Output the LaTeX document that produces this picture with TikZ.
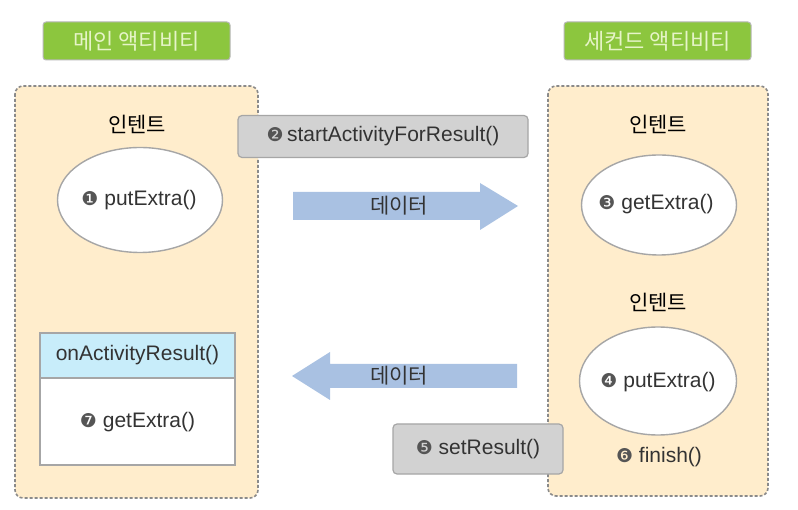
\documentclass[tikz,border=0pt]{standalone}
\usepackage{fontspec}
\setmainfont{Noto Sans CJK KR}
\newfontfamily\latinf{Liberation Sans}
\newfontfamily\symf{DejaVu Sans}
\usetikzlibrary{shapes.geometric}
\definecolor{boxfill}{HTML}{FFEDCC}
\definecolor{boxline}{HTML}{8A8A8A}
\definecolor{greenfill}{HTML}{8CC63E}
\definecolor{greentext}{HTML}{E6F4C8}
\definecolor{grayfill}{HTML}{D2D2D2}
\definecolor{grayline}{HTML}{A6A6A6}
\definecolor{arrowfill}{HTML}{A9C1E2}
\definecolor{headblue}{HTML}{C8EDFA}
\definecolor{txt}{HTML}{333333}
\definecolor{num}{HTML}{555555}
\newcommand{\nm}[1]{{\symf\color{num}\fontsize{19}{19}\selectfont #1}}
\tikzset{
  lbl/.style={fill=greenfill, draw=grayline!80, line width=1pt, rounded corners=3pt, text=greentext, font=\fontsize{22}{24}\selectfont, minimum width=187pt, minimum height=38pt, inner sep=0pt},
  area/.style={fill=boxfill, draw=boxline, dash pattern=on 3pt off 2pt, line width=1.6pt, rounded corners=8pt},
  callbox/.style={fill=grayfill, draw=grayline, line width=1.2pt, rounded corners=4pt, text=txt, font=\latinf\fontsize{21}{24}\selectfont, inner sep=0pt},
  oval/.style={ellipse, fill=white, draw=grayline, line width=1.4pt, inner sep=0pt},
  ttl/.style={text=black, font=\fontsize{21}{24}\selectfont},
  arrowshape/.style={fill=arrowfill, draw=none},
  datatext/.style={text=txt, font=\fontsize{21}{24}\selectfont},
  plain/.style={text=txt, font=\latinf\fontsize{21}{24}\selectfont}
}
\begin{document}
\begin{tikzpicture}[x=1pt,y=-1pt]
\useasboundingbox (0,0) rectangle (798,510);
\fill[white] (0,0) rectangle (798,510);
\node[lbl] (mainlbl) at (136.5,41) {메인 액티비티};
\node[lbl] (seclbl) at (657.5,41) {세컨드 액티비티};
\draw[area] (15,86) rectangle (258,498);
\draw[area] (548,86) rectangle (768,496);
\node[ttl] (int1) at (137,124) {인텐트};
\node[oval, minimum width=165pt, minimum height=105pt] (put1) at (140,200) {};
\node[plain] (put1t) at (139,200) {\nm{❶} putExtra()};
\node[ttl] (int2) at (658,124) {인텐트};
\node[oval, minimum width=155pt, minimum height=100pt] (get3) at (659,205) {};
\node[plain] (get3t) at (656,204) {\nm{❸} getExtra()};
\node[ttl] (int3) at (658,302) {인텐트};
\node[oval, minimum width=157pt, minimum height=108pt] (put4) at (658,381) {};
\node[plain] (put4t) at (658,382) {\nm{❹} putExtra()};
\node[plain] (fin) at (659,457) {\nm{❻} finish()};
\node[callbox, minimum width=290pt, minimum height=42pt] (start) at (383,136.5) {\nm{❷}\,startActivityForResult()};
\node[callbox, minimum width=170pt, minimum height=50pt] (setr) at (478,449) {\nm{❺} setResult()};
% right data arrow
\fill[arrowshape] (293,192) -- (480,192) -- (480,183) -- (518,206) -- (480,230) -- (480,220) -- (293,220) -- cycle;
\node[datatext] (d1) at (399,206) {데이터};
% left data arrow
\fill[arrowshape] (517,364) -- (330,364) -- (330,352) -- (292,376) -- (330,400) -- (330,388) -- (517,388) -- cycle;
\node[datatext] (d2) at (399,376) {데이터};
\draw[fill=white, draw=grayline, line width=1.4pt] (40,333) rectangle (235,465);
\draw[fill=headblue, draw=grayline, line width=1.4pt] (40,333) rectangle (235,378);
\node[plain] (oar) at (137.5,355.5) {onActivityResult()};
\node[plain] (get7) at (137.5,422) {\nm{❼} getExtra()};
\end{tikzpicture}
\end{document}
